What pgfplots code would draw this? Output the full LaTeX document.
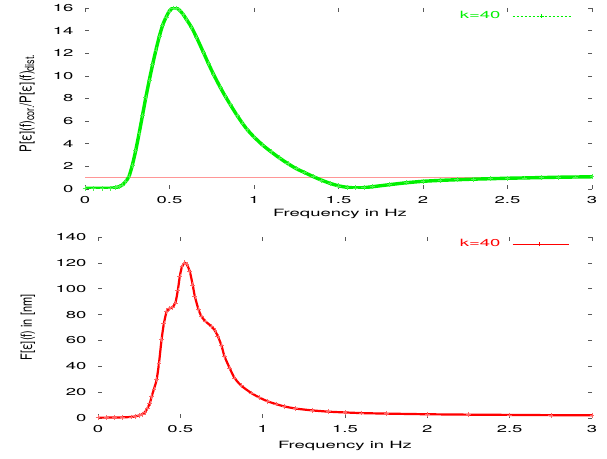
\documentclass[border=0pt]{standalone}
\usepackage{pgfplots}
\pgfplotsset{compat=1.18}
\usepackage{fontspec}
\setmainfont{TeX Gyre Heros}
\newfontfamily\wide{TeX Gyre Heros}[FakeStretch=1.85]
\definecolor{gpgreen}{RGB}{0,240,0}
\definecolor{gpred}{RGB}{255,0,0}
\definecolor{gppink}{RGB}{255,150,150}

\pgfplotsset{
  gp/.style={
    scale only axis,
    xmin=0, xmax=3,
    xtick={0,0.5,...,3},
    separate axis lines,
    axis line style={draw=none},
    tick align=inside,
    major tick length=4pt,
    tick style={black!65, line width=0.6pt},
    /pgf/number format/assume math mode=true,
    tick label style={font=\wide\fontsize{10}{12}\selectfont},
    xticklabel style={yshift=-4pt},
    yticklabel style={xshift=-8pt},
    label style={font=\fontsize{10}{12}\selectfont},
    xlabel={\wide Frequency in Hz},
    legend plot pos=right,
    legend style={draw=none, fill=none, inner sep=0pt, outer sep=0pt,
      font=\wide\fontsize{10}{12}\selectfont, anchor=east,
      nodes={inner sep=0pt}, column sep=12pt},
  }
}

\begin{document}
\begin{tikzpicture}
\useasboundingbox (0,0) rectangle (607pt,458pt);

\begin{axis}[gp,
  at={(85pt,269pt)}, anchor=south west,
  width=507pt, height=181pt,
  ymin=0, ymax=16, ytick={0,2,...,16},
  xlabel style={at={(axis description cs:0.503,-0.138)}, anchor=center},
  ylabel style={at={(axis description cs:-0.114,0.472)}, anchor=center},
  ylabel={\scalebox{1}[1.4]{\fontsize{11.5}{12}\selectfont P[ε](f)\raisebox{-2pt}{\fontsize{9}{9}\selectfont cor.}/P[ε](f)\raisebox{-2pt}{\fontsize{9}{9}\selectfont dist.}}},
  legend style={at={(axis description cs:0.9586,0.956)}, text=gpgreen},
]
\addplot[draw=gppink, line width=1.6pt, mark=none, forget plot] coordinates {(0,1) (3,1)};
\addplot[gpgreen, line width=3.4pt, smooth, tension=0.4, mark=+, mark size=2.4pt,
  mark options={line width=0.6pt, draw=gpgreen!70},
  legend image code/.code={
    \draw[gpgreen, line width=0.6pt, dash pattern=on 2.5pt off 1.5pt] (0pt,0pt) -- (58pt,0pt);
    \draw[gpgreen, line width=0.6pt] (27pt,0pt) -- (31pt,0pt) (29pt,-2pt) -- (29pt,2pt);
  }] coordinates {
(0,0.05) (0.05,0.05) (0.1,0.05) (0.15,0.07) (0.18,0.12) (0.2,0.2)
(0.22,0.35) (0.24,0.65) (0.26,1.1) (0.28,2.1) (0.30,3.4) (0.32,4.9)
(0.34,6.5) (0.36,8.1) (0.38,9.6) (0.40,11.0) (0.42,12.3) (0.44,13.5)
(0.46,14.5) (0.48,15.2) (0.50,15.75) (0.52,16.0) (0.54,16.0) (0.56,15.8)
(0.58,15.45) (0.60,15.0) (0.63,14.3) (0.66,13.4) (0.70,12.1) (0.73,11.1)
(0.76,10.15) (0.80,9.0) (0.83,8.2) (0.86,7.45) (0.90,6.5) (0.93,5.85)
(0.96,5.25) (1.00,4.6) (1.05,3.9) (1.10,3.3) (1.15,2.75) (1.20,2.25)
(1.25,1.8) (1.30,1.45) (1.35,1.1) (1.40,0.78) (1.45,0.5) (1.50,0.28)
(1.55,0.15) (1.60,0.1) (1.65,0.12) (1.70,0.2) (1.80,0.38) (1.90,0.55)
(2.00,0.68) (2.10,0.76) (2.20,0.82) (2.30,0.87) (2.40,0.91) (2.50,0.95)
(2.60,0.98) (2.70,1.01) (2.80,1.04) (2.90,1.06) (3.00,1.08)
};
\addlegendentry{k=40}
\end{axis}

\begin{axis}[gp,
  at={(98pt,40pt)}, anchor=south west,
  width=494pt, height=181pt,
  ymin=0, ymax=140, ytick={0,20,...,140},
  xlabel style={at={(axis description cs:0.5,-0.153)}, anchor=center},
  ylabel style={at={(axis description cs:-0.142,0.5)}, anchor=center},
  ylabel={\scalebox{1}[1.4]{\fontsize{11}{12}\selectfont F[ε](f) in [nm]}},
  legend style={at={(axis description cs:0.9534,0.961)}, text=gpred},
]
\addplot[gpred, line width=2.2pt, smooth, tension=0.4, mark=+, mark size=2.4pt,
  mark options={line width=0.6pt, draw=gpred!60},
  legend image code/.code={
    \draw[gpred, line width=0.6pt] (0pt,0pt) -- (56pt,0pt);
    \draw[gpred, line width=0.6pt] (25pt,0pt) -- (29pt,0pt) (27pt,-2pt) -- (27pt,2pt);
  }] coordinates {
(0,0.3) (0.05,0.3) (0.1,0.4) (0.15,0.5) (0.2,0.8) (0.225,1.2) (0.25,2.0)
(0.27,3.0) (0.285,4.5) (0.30,7.5) (0.315,11.5) (0.326,16.7) (0.34,22.5)
(0.356,29.6) (0.37,42) (0.386,60.6) (0.40,73) (0.417,82.6) (0.43,84.5)
(0.45,85.5) (0.47,89) (0.485,99) (0.497,109.7) (0.51,117) (0.527,120)
(0.54,118.5) (0.557,113.6) (0.575,103) (0.588,94.2) (0.61,84) (0.628,78.7)
(0.65,75) (0.688,71) (0.71,67.5) (0.728,63.2) (0.75,56) (0.768,47.7)
(0.80,38.5) (0.829,31) (0.87,25) (0.93,19.4) (0.98,15.8) (1.03,12.9)
(1.08,10.8) (1.13,9.0) (1.2,7.3) (1.3,5.9) (1.4,4.9) (1.5,4.3) (1.6,3.8)
(1.75,3.4) (2.0,2.9) (2.25,2.6) (2.5,2.4) (2.75,2.2) (3,2.1)
};
\addlegendentry{k=40}
\end{axis}
\end{tikzpicture}
\end{document}
